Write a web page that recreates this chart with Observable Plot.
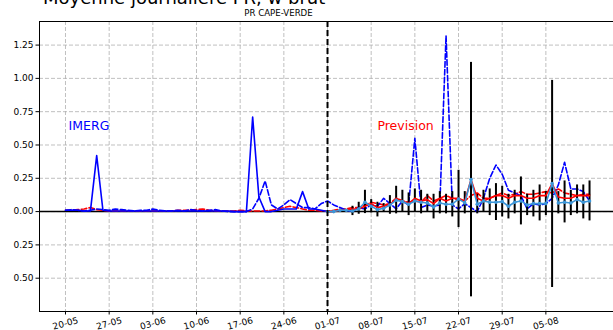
<!DOCTYPE html>
<html><head><meta charset="utf-8">
<script src="https://cdn.jsdelivr.net/npm/d3@7"></script>
<script src="https://cdn.jsdelivr.net/npm/@observablehq/plot@0.6"></script>
<style>
html,body{margin:0;padding:0;overflow:hidden;background:#fff;}
#wrap{position:relative;width:613px;height:330px;overflow:hidden;font-family:"DejaVu Sans",sans-serif;}
#wrap svg{max-width:none !important;display:block;}
#title{position:absolute;left:43px;top:-11px;font-size:18px;line-height:18px;white-space:nowrap;color:#000;}
#sub{position:absolute;left:278.5px;top:7.5px;transform:translateX(-50%);font-size:8.6px;line-height:10px;white-space:nowrap;color:#000;}
</style></head>
<body>
<div id="wrap">
  <div id="chart"></div>
  <div id="title">Moyenne journalière PR, w brut</div>
  <div id="sub">PR CAPE-VERDE</div>
</div>
<script>
// ---------- data ----------
const year = 2023;
const obsStart = "20-05", fcStart = "01-07", barStart = "05-07";
const xTickLabels = ["20-05","27-05","03-06","10-06","17-06","24-06","01-07","08-07","15-07","22-07","29-07","05-08"];
const yTicks = [-0.5, -0.25, 0, 0.25, 0.5, 0.75, 1.0, 1.25];

// IMERG observed (solid blue), 20-05 .. 01-07
const imerg = [0.01,0.01,0.01,0.005,0.005,0.42,0.01,0.005,0.005,0.005,0.005,0.005,
  0.005,0.005,0.005,0.005,0.005,0.005,0.005,0.005,0.005,0.005,0.005,0.005,0.005,0.005,0.005,0.0,
  0.0,0.0,0.71,0.11,0.0,0.0,0.01,0.02,0.02,0.02,0.15,0.02,0.02,0.01,
  0.0];
// dashed blue, 20-05 .. 12-08
const blueDashed = [0.01,0.015,0.01,0.005,0.01,0.02,0.015,0.01,0.02,0.015,0.01,0.005,
  0.01,0.01,0.02,0.01,0.005,0.005,0.01,0.005,0.015,0.01,0.005,0.01,0.015,0.005,0.0,0.0,0.0,0.0,0.02,0.1,0.23,0.05,0.02,0.05,0.09,0.06,0.03,0.03,0.02,0.06,
  0.08,0.05,0.03,0.01,0.0,0.03,0.02,0.05,0.04,0.1,0.06,0.02,0.08,0.05,0.55,0.03,0.05,0.04,0.05,1.32,0.05,0.02,0.06,0.03,0.0,0.1,0.25,0.35,0.28,0.16,0.14,
  0.12,0.02,0.06,0.05,0.06,0.1,0.2,0.37,0.17,0.17,0.15,0.08];
// dashed red, 20-05 .. 12-08
const redDashed = [0.01,0.01,0.015,0.02,0.03,0.015,0.01,0.005,0.005,0.005,0.005,0.005,
  0.005,0.005,0.005,0.005,0.005,0.005,0.01,0.01,0.01,0.015,0.02,0.01,0.005,0.005,0.005,0.005,0.01,0.005,0.005,0.005,0.005,0.01,0.02,0.03,0.04,0.03,0.02,0.01,0.01,0.005,
  0.005,0.01,0.02,0.02,0.03,0.03,0.05,0.07,0.06,0.05,0.06,0.1,0.08,0.07,0.08,0.07,0.12,0.08,0.1,0.12,0.1,0.09,0.08,0.12,0.14,0.1,0.1,0.12,0.14,0.12,0.13,
  0.15,0.13,0.13,0.14,0.15,0.14,0.17,0.14,0.13,0.12,0.13,0.13];
// solid red forecast, 01-07 .. 12-08
const redSolid = [0.0,0.0,0.01,0.01,0.02,0.02,0.04,0.06,0.03,0.04,0.05,0.1,0.08,0.06,0.1,0.08,0.09,0.06,0.1,0.08,0.1,0.1,0.08,0.24,0.1,0.08,0.1,0.12,0.12,0.1,0.12,
  0.12,0.1,0.1,0.12,0.12,0.21,0.11,0.1,0.1,0.12,0.12,0.12];
// light blue forecast with markers, 01-07 .. 12-08
const lightBlue = [0.0,0.0,0.01,0.01,0.005,0.02,0.07,0.04,0.015,0.025,0.05,0.085,0.075,0.055,0.08,0.07,0.065,0.035,0.065,0.055,0.055,0.095,0.065,0.24,0.055,0.08,0.07,0.07,0.075,0.04,0.07,
  0.08,0.05,0.06,0.06,0.06,0.21,0.065,0.07,0.065,0.09,0.07,0.08];
// error bars, 05-07 .. 12-08
const barHigh = [0.04,0.07,0.16,0.09,0.07,0.06,0.12,0.19,0.16,0.14,0.17,0.16,0.13,0.13,0.15,0.13,0.15,0.31,0.15,1.12,0.13,0.16,0.17,0.21,0.19,0.13,0.16,0.26,0.13,0.16,0.2,0.15,0.985,0.15,0.23,0.16,0.2,0.2,0.23];
const barLow = [-0.03,-0.02,-0.015,-0.01,-0.04,-0.005,-0.02,-0.017,-0.005,-0.03,-0.005,-0.017,-0.005,-0.055,-0.017,-0.017,-0.04,-0.12,-0.017,-0.64,-0.017,0.0,-0.03,-0.067,-0.04,-0.055,-0.017,-0.1,-0.03,-0.04,-0.07,-0.03,-0.57,-0.017,-0.085,-0.03,-0.017,-0.055,-0.07];
const labels = [{text:"IMERG", date:"2023-05-20T12:00Z", y:0.615, color:"#0000ff"},
                {text:"Prevision", date:"2023-07-09T00:00Z", y:0.615, color:"#ff0000"}];

// ---------- helpers ----------
const parseDM = s => { const [d,m] = s.split("-").map(Number); return new Date(Date.UTC(year, m-1, d)); };
const days = (start, n) => d3.utcDay.range(parseDM(start), d3.utcDay.offset(parseDM(start), n));
const series = (start, vals) => days(start, vals.length).map((date,i)=>({date, v: vals[i]}));

const imergData = series(obsStart, imerg);
const blueDashedData = series(obsStart, blueDashed);
const redDashedData = series(obsStart, redDashed);
const redSolidData = series(fcStart, redSolid);
const lightBlueData = series(fcStart, lightBlue);
const barData = days(barStart, barHigh.length).map((date,i)=>({date, low: barLow[i], high: barHigh[i]}));
const xTicks = xTickLabels.map(parseDM);

const blue = "#0000ff", red = "#ff0000", light = "#3c96d8";
const dash = "5.5,2.4";

const chart = Plot.plot({
  width: 660, height: 330,
  marginLeft: 39, marginRight: 0, marginTop: 21, marginBottom: 19,
  style: {fontFamily: "DejaVu Sans, sans-serif", fontSize: "9px", background: "transparent", maxWidth: "none"},
  x: {type: "utc", domain: [new Date(Date.UTC(year,4,15,20)), new Date(Date.UTC(year,7,23,9))], axis: null},
  y: {domain: [-0.75, 1.427], axis: null},
  marks: [
    Plot.gridX(xTicks, {stroke: "#b0b0b0", strokeOpacity: 1, strokeWidth: 0.8, strokeDasharray: "4,2"}),
    Plot.gridY(yTicks, {stroke: "#b0b0b0", strokeOpacity: 1, strokeWidth: 0.8, strokeDasharray: "4,2"}),
    Plot.axisY({ticks: yTicks, tickFormat: d => Math.abs(d).toFixed(2), tickSize: 3.5, tickPadding: 2.5, label: null, fontSize: 9}),
    Plot.axisX({ticks: xTicks, tickFormat: () => "", tickSize: 3.5, label: null}),
    Plot.text(xTicks, {x: d => d, frameAnchor: "bottom", dy: 12, rotate: -15, text: d => d3.utcFormat("%d-%m")(d), fontSize: 9, textAnchor: "middle", lineAnchor: "middle"}),
    Plot.ruleY([0], {stroke: "#000", strokeWidth: 1.5}),
    Plot.line(redDashedData, {x: "date", y: "v", stroke: red, strokeWidth: 1.6, strokeDasharray: dash}),
    Plot.line(blueDashedData, {x: "date", y: "v", stroke: blue, strokeWidth: 1.6, strokeDasharray: dash}),
    Plot.line(imergData, {x: "date", y: "v", stroke: blue, strokeWidth: 1.6}),
    Plot.ruleX(barData, {x: "date", y1: "low", y2: "high", stroke: "#000", strokeWidth: 2}),
    Plot.line(redSolidData, {x: "date", y: "v", stroke: red, strokeWidth: 1.6}),
    Plot.line(lightBlueData, {x: "date", y: "v", stroke: light, strokeWidth: 1.6}),
    Plot.dot(lightBlueData, {x: "date", y: "v", fill: light, r: 1.8}),
    Plot.ruleX([parseDM(fcStart)], {stroke: "#000", strokeWidth: 2, strokeDasharray: "6,3"}),
    Plot.text(labels, {x: d => new Date(d.date), y: "y", text: "text", fill: "color", fontSize: 12.5, textAnchor: "start", lineAnchor: "bottom"}),
    Plot.frame({stroke: "#000", strokeWidth: 1})
  ]
});
document.getElementById("chart").appendChild(chart);
</script>
</body></html>
